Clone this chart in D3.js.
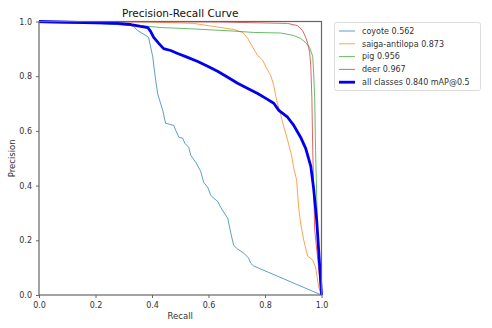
<!DOCTYPE html>
<html>
<head>
<meta charset="utf-8">
<script src="https://cdn.jsdelivr.net/npm/d3@7/dist/d3.min.js"></script>
<style>
  html, body { margin: 0; padding: 0; background: #fff; }
  svg { display: block; font-family: "DejaVu Sans", sans-serif; }
</style>
</head>
<body>
<svg id="chart" width="492" height="328"></svg>
<script>
// Recall / precision pairs for each class, plus the mean curve over all classes.
const coyoteRecall = [0, 0.006, 0.218, 0.325, 0.335, 0.349, 0.378, 0.388, 0.403, 0.407, 0.413, 0.420, 0.427, 0.438, 0.448, 0.477, 0.484, 0.495, 0.509, 0.516, 0.530, 0.537, 0.555, 0.572, 0.583, 0.597, 0.608, 0.618, 0.632, 0.643, 0.654, 0.668, 0.679, 0.689, 0.703, 0.725, 0.742, 0.749, 0.760, 1.0];
const coyotePrecision = [0.996, 0.996, 0.993, 0.985, 0.982, 0.967, 0.949, 0.942, 0.869, 0.832, 0.785, 0.737, 0.712, 0.675, 0.628, 0.620, 0.602, 0.577, 0.573, 0.555, 0.540, 0.511, 0.485, 0.453, 0.412, 0.394, 0.365, 0.354, 0.343, 0.321, 0.303, 0.281, 0.226, 0.182, 0.168, 0.153, 0.135, 0.117, 0.106, 0.0];

const saigaRecall = [0, 0.396, 0.548, 0.643, 0.689, 0.721, 0.739, 0.757, 0.774, 0.792, 0.806, 0.820, 0.831, 0.841, 0.855, 0.866, 0.880, 0.894, 0.901, 0.912, 0.919, 0.926, 0.937, 0.951, 0.969, 0.979, 0.990, 1.0];
const saigaPrecision = [1.0, 0.998, 0.993, 0.978, 0.971, 0.960, 0.938, 0.905, 0.876, 0.858, 0.828, 0.803, 0.766, 0.712, 0.661, 0.617, 0.566, 0.511, 0.467, 0.420, 0.321, 0.263, 0.201, 0.142, 0.128, 0.102, 0.029, 0.0];

const pigRecall = [0, 0.218, 0.360, 0.431, 0.526, 0.689, 0.760, 0.855, 0.901, 0.926, 0.944, 0.958, 0.969, 0.972, 0.976, 0.979, 0.986, 1.0];
const pigPrecision = [0.996, 0.993, 0.985, 0.978, 0.974, 0.965, 0.960, 0.958, 0.949, 0.938, 0.923, 0.905, 0.872, 0.814, 0.719, 0.529, 0.237, 0.0];

const deerRecall = [0, 0.643, 0.880, 0.915, 0.933, 0.944, 0.951, 0.958, 0.962, 0.966, 0.969, 0.976, 1.0];
const deerPrecision = [1.0, 0.998, 0.993, 0.985, 0.967, 0.942, 0.920, 0.887, 0.839, 0.719, 0.529, 0.237, 0.0];

const allRecall = [0, 0.279, 0.325, 0.360, 0.385, 0.395, 0.406, 0.424, 0.441, 0.466, 0.491, 0.526, 0.562, 0.597, 0.632, 0.668, 0.703, 0.739, 0.774, 0.803, 0.831, 0.849, 0.880, 0.902, 0.926, 0.944, 0.962, 0.972, 0.983, 0.990, 1.0];
const allPrecision = [1.0, 0.993, 0.989, 0.982, 0.978, 0.964, 0.942, 0.920, 0.901, 0.894, 0.883, 0.869, 0.854, 0.836, 0.818, 0.796, 0.774, 0.755, 0.737, 0.719, 0.701, 0.675, 0.650, 0.620, 0.577, 0.536, 0.471, 0.391, 0.274, 0.164, 0.0];

const seriesNames = ["coyote 0.562", "saiga-antilopa 0.873", "pig 0.956", "deer 0.967", "all classes 0.840 mAP@0.5"];
const tickValues = [0, 0.2, 0.4, 0.6, 0.8, 1.0];

const series = [
  { name: seriesNames[0], r: coyoteRecall, p: coyotePrecision, color: "#1f77b4", width: 0.9, opacity: 0.8 },
  { name: seriesNames[1], r: saigaRecall, p: saigaPrecision, color: "#ff7f0e", width: 0.9, opacity: 0.8 },
  { name: seriesNames[2], r: pigRecall, p: pigPrecision, color: "#2ca02c", width: 0.9, opacity: 0.8 },
  { name: seriesNames[3], r: deerRecall, p: deerPrecision, color: "#d62728", width: 0.9, opacity: 0.8 },
  { name: seriesNames[4], r: allRecall, p: allPrecision, color: "#0000ee", width: 2.8, opacity: 1 }
];

const svg = d3.select("#chart");
const plotLeft = 39, plotRight = 321.5, plotTop = 21.5, plotBottom = 295;

const x = d3.scaleLinear().domain([0, 1]).range([plotLeft, plotRight]);
const y = d3.scaleLinear().domain([0, 1]).range([plotBottom, plotTop]);

svg.append("clipPath").attr("id", "clip")
  .append("rect").attr("x", plotLeft).attr("y", plotTop - 2)
  .attr("width", plotRight - plotLeft + 2).attr("height", plotBottom - plotTop + 2);

const line = d3.line().x(d => x(d[0])).y(d => y(d[1]));

const curves = svg.append("g").attr("clip-path", "url(#clip)");
series.forEach(s => {
  curves.append("path")
    .datum(s.r.map((v, i) => [v, s.p[i]]))
    .attr("d", line)
    .attr("fill", "none")
    .attr("stroke", s.color)
    .attr("stroke-opacity", s.opacity)
    .attr("stroke-width", s.width)
    .attr("stroke-linejoin", "round");
});

// Axes
const axisColor = "#666";
const xAxis = svg.append("g").attr("transform", `translate(0,${plotBottom})`)
  .call(d3.axisBottom(x).tickValues(tickValues).tickFormat(d3.format(".1f")).tickSize(3).tickSizeOuter(0));
const yAxis = svg.append("g").attr("transform", `translate(${plotLeft},0)`)
  .call(d3.axisLeft(y).tickValues(tickValues).tickFormat(d3.format(".1f")).tickSize(3).tickSizeOuter(0));
[xAxis, yAxis].forEach(a => {
  a.select(".domain").remove();
  a.selectAll(".tick line").attr("stroke", axisColor);
  a.selectAll(".tick text").attr("fill", "#333").style("font-size", "8px").style("font-family", "DejaVu Sans, sans-serif");
});
xAxis.selectAll(".tick text").attr("dy", "0.9em");
yAxis.selectAll(".tick text").attr("dx", "-1px");

// Frame
svg.append("rect")
  .attr("x", plotLeft).attr("y", plotTop)
  .attr("width", plotRight - plotLeft).attr("height", plotBottom - plotTop)
  .attr("fill", "none").attr("stroke", axisColor).attr("stroke-width", 1.2);

// Titles
svg.append("text").attr("x", (plotLeft + plotRight) / 2).attr("y", 17)
  .attr("text-anchor", "middle").style("font-size", "10.5px").attr("fill", "#111")
  .text("Precision-Recall Curve");
svg.append("text").attr("x", (plotLeft + plotRight) / 2).attr("y", 319)
  .attr("text-anchor", "middle").style("font-size", "8.5px").attr("fill", "#333")
  .text("Recall");
svg.append("text").attr("transform", `translate(15,${(plotTop + plotBottom) / 2}) rotate(-90)`)
  .attr("text-anchor", "middle").style("font-size", "8.5px").attr("fill", "#333")
  .text("Precision");

// Legend
const legend = svg.append("g");
legend.append("rect")
  .attr("x", 334.5).attr("y", 22.5).attr("width", 146).attr("height", 68).attr("rx", 2)
  .attr("fill", "#fff").attr("stroke", "#ddd").attr("stroke-width", 1);
series.forEach((s, i) => {
  const ly = 31 + i * 12.8;
  legend.append("line")
    .attr("x1", 339).attr("x2", 355).attr("y1", ly).attr("y2", ly)
    .attr("stroke", s.color).attr("stroke-opacity", s.opacity)
    .attr("stroke-width", s.width);
  legend.append("text")
    .attr("x", 362).attr("y", ly).attr("dy", "0.35em")
    .style("font-size", "8px").attr("fill", "#333")
    .text(s.name);
});
</script>
</body>
</html>
